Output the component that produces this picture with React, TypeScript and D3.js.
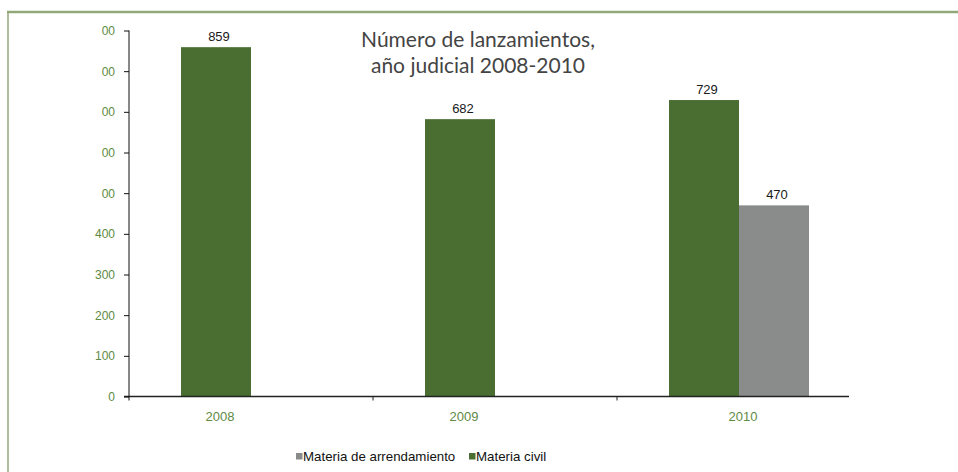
import * as d3 from 'd3';
import { useRef, useEffect } from 'react';

const years = ['2008', '2009', '2010'];
const civil = [859, 682, 729];
const arrendamiento = [null, null, 470];
const seriesNames = ['Materia civil', 'Materia de arrendamiento'];
const legendOrder = ['Materia de arrendamiento', 'Materia civil'];
const yTicks = [0, 100, 200, 300, 400, 500, 600, 700, 800, 900];
// the left part of the upper tick labels is cut off in the source picture
const yTickLabels = ['0', '100', '200', '300', '400', '00', '00', '00', '00', '00'];
const titleLines = ['Número de lanzamientos,', 'año judicial 2008-2010'];

const colors = {
    'Materia civil': '#4a6e32',
    'Materia de arrendamiento': '#8a8c8c',
};

const width = 958;
const height = 472;
const marginLeft = 129;
const plotRight = 861;
const axisRight = 849;
const font = 'Liberation Sans, Arial, sans-serif';
const green = '#5e8a45';

function App() {
    const gy = useRef();

    const x = d3.scaleBand(years, [marginLeft, plotRight]);
    const y = d3.scaleLinear([0, 900], [396.5, 30.5]);
    const inner = d3.scaleBand(seriesNames, [-70, 70]);

    const rows = years.map((year, i) => {
        const center = x(year) + x.bandwidth() / 2;
        const bars = [
            { name: 'Materia civil', value: civil[i] },
            { name: 'Materia de arrendamiento', value: arrendamiento[i] },
        ]
            .filter((d) => d.value != null)
            .map((d) => ({ ...d, x0: center + inner(d.name) }));
        const left = d3.min(bars, (b) => b.x0);
        const right = d3.max(bars, (b) => b.x0 + inner.bandwidth());
        return { year, bars, labelX: (left + right) / 2 };
    });

    useEffect(() => {
        const g = d3.select(gy.current);
        g.call(
            d3.axisLeft(y)
                .tickValues(yTicks)
                .tickSize(5)
                .tickPadding(9)
                .tickFormat((d, i) => yTickLabels[i])
        );
        g.attr('font-family', font).attr('font-size', 12);
        g.select('.domain').attr('d', `M0,${y(900)}V${y(0) + 4}`).attr('stroke', '#111');
        g.selectAll('.tick line').attr('stroke', '#111');
        g.selectAll('.tick text').attr('fill', green);
    }, [y]);

    return (
        <svg
            width={width}
            height={height}
            style={{ position: 'absolute', left: 0, top: 0, background: '#fff' }}
        >
            {/* frame */}
            <line x1={7} x2={width} y1={12} y2={12} stroke="#91a97a" strokeWidth={2.5} />
            <line x1={8} x2={8} y1={12} y2={height} stroke="#91a97a" strokeWidth={1.5} />

            {/* title */}
            <text
                x={478}
                y={47}
                textAnchor="middle"
                fontFamily="Lato, 'Open Sans', sans-serif"
                fontWeight={400}
                fontSize={21}
                fill="#444"
            >
                {titleLines.map((t, i) => (
                    <tspan key={i} x={478} dy={i === 0 ? 0 : 26}>
                        {t}
                    </tspan>
                ))}
            </text>

            {/* bars */}
            {rows.map((r) =>
                r.bars.map((b) => (
                    <g key={r.year + b.name}>
                        <rect
                            x={b.x0}
                            y={y(b.value)}
                            width={inner.bandwidth()}
                            height={y(0) - y(b.value)}
                            fill={colors[b.name]}
                        />
                        <text
                            x={b.x0 + inner.bandwidth() / 2 + 3}
                            y={y(b.value) - 6}
                            textAnchor="middle"
                            fontFamily={font}
                            fontSize={13}
                            fill="#1a1a1a"
                        >
                            {b.value}
                        </text>
                    </g>
                ))
            )}

            {/* x axis */}
            <line x1={marginLeft - 5} x2={axisRight} y1={y(0)} y2={y(0)} stroke="#222" strokeWidth={1.5} />
            {years.slice(1).map((year) => (
                <line key={year} x1={x(year)} x2={x(year)} y1={y(0)} y2={y(0) + 4} stroke="#222" />
            ))}
            {rows.map((r) => (
                <text
                    key={r.year}
                    x={r.labelX + 4}
                    y={421}
                    textAnchor="middle"
                    fontFamily={font}
                    fontSize={13}
                    fill={green}
                >
                    {r.year}
                </text>
            ))}

            <g ref={gy} transform={`translate(${marginLeft},0)`} />

            {/* legend */}
            {legendOrder.map((name, i) => {
                const lx = i === 0 ? 296 : 469;
                return (
                    <g key={name} transform={`translate(${lx},453)`}>
                        <rect width={6.5} height={6.5} fill={colors[name]} />
                        <text x={7} y={8} fontFamily={font} fontSize={13.3} fill="#111">
                            {name}
                        </text>
                    </g>
                );
            })}
        </svg>
    );
}

export default App;
